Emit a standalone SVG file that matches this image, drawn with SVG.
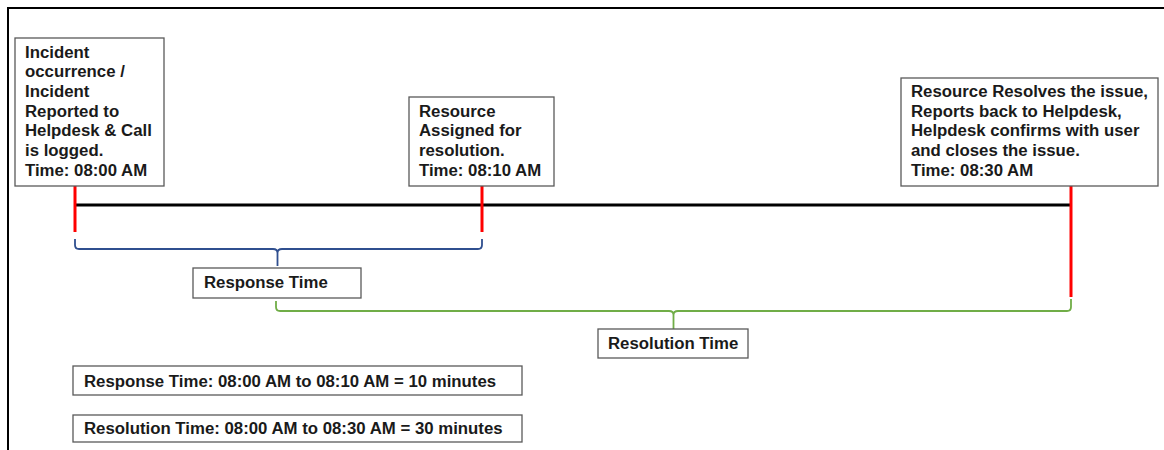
<svg xmlns="http://www.w3.org/2000/svg" width="1164" height="450" viewBox="0 0 1164 450">
  <style>
    .box { fill: #ffffff; stroke: #595959; stroke-width: 1.3; }
    .lbl { font-family: "Liberation Sans", Arial, sans-serif; font-weight: 700; font-size: 16.8px; fill: #1a1a1a; }
    .tick { stroke: #ff0000; stroke-width: 3; fill: none; }
    .axis { stroke: #000000; stroke-width: 3; fill: none; }
    .brace-blue { stroke: #2f4f8f; stroke-width: 1.8; fill: none; }
    .brace-green { stroke: #70ad47; stroke-width: 1.8; fill: none; }
    .frame { stroke: #000000; stroke-width: 2; fill: none; }
  </style>

  <rect width="1164" height="450" fill="#ffffff"/>
  <!-- page frame -->
  <path class="frame" d="M8 450 V8 H1164"/>

  <!-- timeline, markers and braces -->
  <g id="connectors">
    <line class="axis" x1="75" y1="205" x2="1071" y2="205"/>
    <line class="tick" x1="75" y1="186" x2="75" y2="232"/>
    <line class="tick" x1="482" y1="186" x2="482" y2="232"/>
    <line class="tick" x1="1071" y1="186" x2="1071" y2="297"/>
    <!-- response brace -->
    <path class="brace-blue" d="M75 239 V245 Q75 249 79 249 H273 Q277.5 249 277.5 253 V266 M277.5 253 Q277.5 249 282 249 H478 Q482 249 482 245 V239"/>
    <!-- resolution brace -->
    <path class="brace-green" d="M276 301 V307 Q276 311 280 311 H669 Q673.5 311 673.5 315 V329 M673.5 315 Q673.5 311 678 311 H1067 Q1071 311 1071 307 V299"/>
  </g>

  <g id="incident">
    <rect class="box" x="15" y="38" width="149" height="148"/>
    <text class="lbl" x="25" y="57.5">
      <tspan x="25">Incident</tspan>
      <tspan x="25" dy="19.7">occurrence /</tspan>
      <tspan x="25" dy="19.7">Incident</tspan>
      <tspan x="25" dy="19.7">Reported to</tspan>
      <tspan x="25" dy="19.7">Helpdesk &amp; Call</tspan>
      <tspan x="25" dy="19.7">is logged.</tspan>
      <tspan x="25" dy="19.7">Time: 08:00 AM</tspan>
    </text>
  </g>

  <g id="assigned">
    <rect class="box" x="409" y="97" width="145" height="89"/>
    <text class="lbl" x="419" y="116.5">
      <tspan x="419">Resource</tspan>
      <tspan x="419" dy="19.7">Assigned for</tspan>
      <tspan x="419" dy="19.7">resolution.</tspan>
      <tspan x="419" dy="19.7">Time: 08:10 AM</tspan>
    </text>
  </g>

  <g id="resolved">
    <rect class="box" x="901" y="78" width="257" height="108"/>
    <text class="lbl" x="911" y="97">
      <tspan x="911">Resource Resolves the issue,</tspan>
      <tspan x="911" dy="19.7">Reports back to Helpdesk,</tspan>
      <tspan x="911" dy="19.7">Helpdesk confirms with user</tspan>
      <tspan x="911" dy="19.7">and closes the issue.</tspan>
      <tspan x="911" dy="19.7">Time: 08:30 AM</tspan>
    </text>
  </g>

  <g id="response-time">
    <rect class="box" x="193" y="268" width="168" height="30"/>
    <text class="lbl" x="204" y="288">Response Time</text>
  </g>

  <g id="resolution-time">
    <rect class="box" x="598" y="329" width="150" height="29"/>
    <text class="lbl" x="608" y="348.5">Resolution Time</text>
  </g>

  <g id="response-summary">
    <rect class="box" x="73" y="366" width="449" height="29"/>
    <text class="lbl" x="84" y="386.5">Response Time: 08:00 AM to 08:10 AM = 10 minutes</text>
  </g>

  <g id="resolution-summary">
    <rect class="box" x="73" y="415" width="449" height="27"/>
    <text class="lbl" x="84" y="433.5">Resolution Time: 08:00 AM to 08:30 AM = 30 minutes</text>
  </g>
</svg>
